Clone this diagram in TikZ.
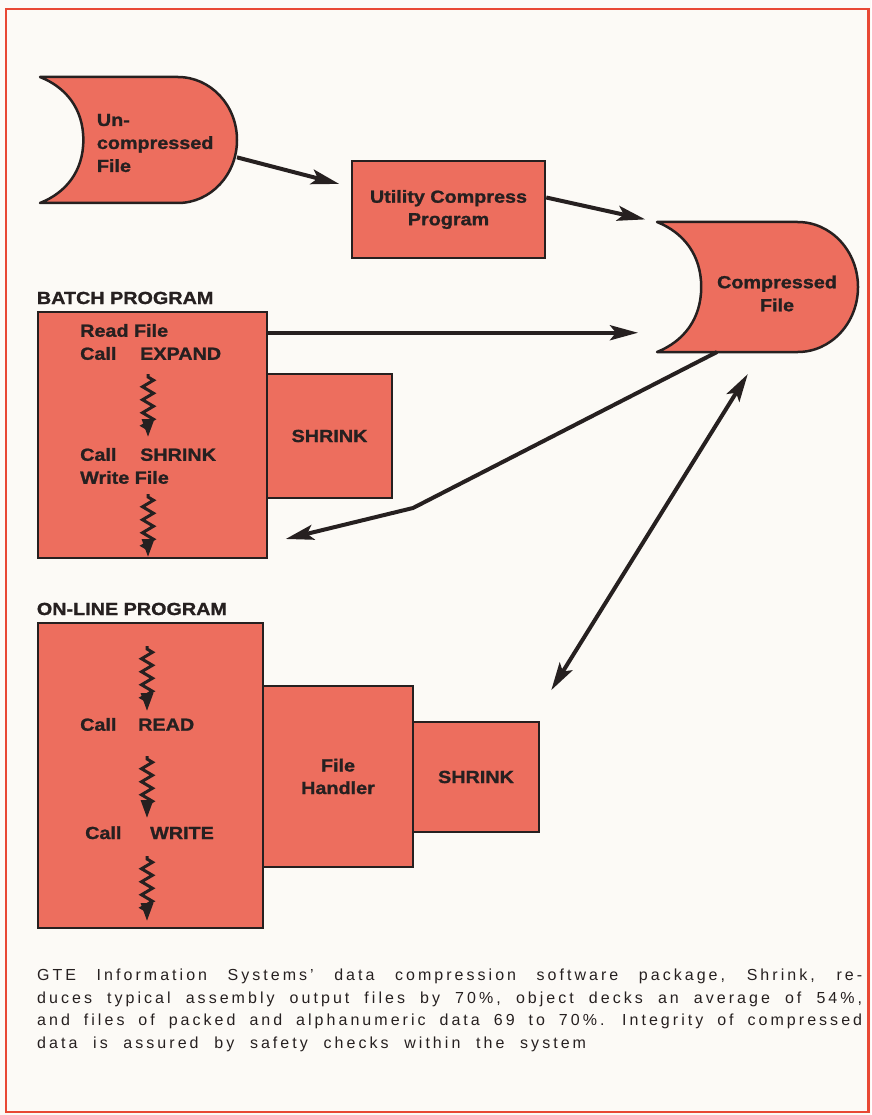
\documentclass[tikz,border=0pt]{standalone}
\usepackage{fontspec}
\usepackage{tikz}
\usetikzlibrary{arrows.meta,positioning,calc,decorations.pathmorphing}
\newfontfamily\lblfont[FakeStretch=1.13,BoldFeatures={FakeStretch=1.13,FakeBold=1.2}]{Liberation Sans}
\newfontfamily\capfont[LetterSpace=19,WordSpace=2.1]{Liberation Sans}
\definecolor{boxfill}{RGB}{237,110,94}
\definecolor{framered}{RGB}{232,72,52}
\definecolor{ink}{RGB}{38,32,32}
\definecolor{paper}{RGB}{252,250,246}
\tikzset{
    %Define standard arrow tip
    >={Stealth[length=28pt,width=15pt,inset=6pt]},
    %Define style for boxes
    procbox/.style={
           rectangle,
           draw=ink, line width=2.5pt,
           fill=boxfill,
           inner sep=0pt,
           align=center,
           text=ink,
           font=\lblfont\bfseries\fontsize{17.5}{22.5}\selectfont},
    filebox/.style={
           rectangle,
           inner sep=0pt, outer sep=0pt},
    fileshape/.style={
           draw=ink, line width=2.5pt,
           fill=boxfill,
           line join=round},
    lbl/.style={
           inner sep=0pt,
           align=left,
           text=ink,
           font=\lblfont\bfseries\fontsize{17.5}{23}\selectfont},
    capnode/.style={
           inner sep=0pt,
           text width=825pt,
           align=justify,
           text=ink,
           font=\capfont\fontsize{16}{22.5}\selectfont},
    % Define arrow style
    flow/.style={
           ->,
           draw=ink,
           line width=4pt},
    squiggle/.style={
           -{Triangle[length=18pt,width=12pt]},
           draw=ink,
           line width=3pt,
           decorate,
           decoration={zigzag, amplitude=5.5pt, segment length=13pt,
                       pre length=3pt, post length=8pt}}
}
% file symbol drawn over a filebox node: #1 node, #2 width, #3 height
\newcommand{\filesymbol}[3]{%
  \begin{scope}[shift={(#1.north west)}, x=#2, y=-#3]
    \filldraw[fileshape] (0,0) -- (0.7,0)
      .. controls (0.866,0) and (1,0.224) .. (1,0.5)
      .. controls (1,0.776) and (0.866,1) .. (0.7,1) -- (0,1)
      .. controls (0.13,0.92) and (0.22,0.75) .. (0.22,0.5)
      .. controls (0.22,0.25) and (0.13,0.08) .. cycle;
  \end{scope}}
\begin{document}
\begin{tikzpicture}[x=1pt,y=-1pt]
\useasboundingbox (0,0) rectangle (871,1115);
\fill[paper] (0,0) rectangle (871,1115);
\draw[framered, line width=2.5pt] (6,9) rectangle (868.5,1112);

%files
\node[filebox, minimum width=197pt, minimum height=126pt] (ufile) at (138.5,140) {};
\filesymbol{ufile}{197pt}{126pt}
\node[lbl, anchor=west] (ufiletext) at (96.7,143) {Un-\\compressed\\File};
\node[filebox, minimum width=201pt, minimum height=130pt] (cfile) at (757.5,287) {};
\filesymbol{cfile}{201pt}{130pt}
\node[lbl, align=center] (cfiletext) at (777,293.5) {Compressed\\File};

%utility
\node[procbox, minimum width=193pt, minimum height=97pt] (util) at (448.5,209.5) {Utility Compress\\Program};

%batch program
\node[lbl, anchor=base west] (batchhdr) at (36.7,304) {BATCH PROGRAM};
\node[procbox, minimum width=125pt, minimum height=124pt] (bshrink) at (329.5,436) {\raisebox{-4pt}{SHRINK}};
\node[procbox, minimum width=229pt, minimum height=246pt] (batch) at (152.5,435) {};
\node[lbl, anchor=west] (bread) at (80,342) {Read File\\\makebox[60pt][l]{Call}EXPAND};
\node[lbl, anchor=west] (bwrite) at (80,466) {\makebox[60pt][l]{Call}SHRINK\\Write File};
\coordinate (bz1top) at (148,374);
\coordinate (bz1end) at (148,437);
\coordinate (bz2top) at (148,494);
\coordinate (bz2end) at (148,557);
\draw[squiggle] (bz1top) -- (bz1end);
\draw[squiggle] (bz2top) -- (bz2end);

%on-line program
\node[lbl, anchor=base west] (onlinehdr) at (36.7,615) {ON-LINE PROGRAM};
\node[procbox, minimum width=126pt, minimum height=110pt] (oshrink) at (476,777) {SHRINK};
\node[procbox, minimum width=150pt, minimum height=181pt] (handler) at (338,776.5) {File\\Handler};
\node[procbox, minimum width=225pt, minimum height=305pt] (online) at (150.5,775.5) {};
\node[lbl, anchor=base west] (oread) at (80,730.7) {\makebox[58pt][l]{Call}READ};
\node[lbl, anchor=base west] (owrite) at (85,839) {\makebox[65pt][l]{Call}WRITE};
\coordinate (oz1top) at (147,646);
\coordinate (oz1end) at (147,711);
\coordinate (oz2top) at (147,756);
\coordinate (oz2end) at (147,818);
\coordinate (oz3top) at (147,856);
\coordinate (oz3end) at (147,921);
\draw[squiggle] (oz1top) -- (oz1end);
\draw[squiggle] (oz2top) -- (oz2end);
\draw[squiggle] (oz3top) -- (oz3end);

%connectors
\coordinate (bout) at ($(batch.north east)+(0,22)$);
\coordinate (kink) at (413,508);
\draw[flow, shorten >=12pt] (ufile.-10) -- (util.167);
\draw[flow, shorten >=12pt] (util.7) -- (cfile.north west);
\draw[flow, shorten >=19pt] (bout) -- (bout -| cfile.west);
\draw[flow, shorten >=18pt] ($(cfile.south west)+(60,0)$) -- (kink) -- ($(batch.south east)+(0,-16)$);
\draw[flow, <->, shorten <=26pt, shorten >=36pt] ($(cfile.south)+(4,0)$) -- ($(oshrink.north east)+(-8,0)$);

%caption
\node[capnode, anchor=north west] (caption) at (37,969) {GTE Information Systems’ data compression software package, Shrink, re-\linebreak duces typical assembly output files by 70\%, object decks an average of 54\%,\linebreak and files of packed and alphanumeric data 69 to 70\%. Integrity of compressed\linebreak data is assured by safety checks within the system};
\end{tikzpicture}
\end{document}
